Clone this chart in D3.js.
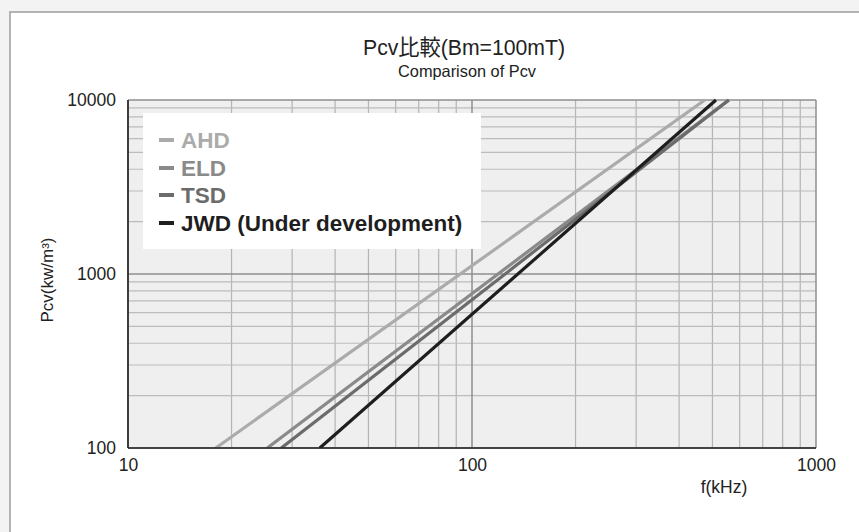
<!DOCTYPE html>
<html><head><meta charset="utf-8">
<script src="https://cdn.jsdelivr.net/npm/d3@7"></script>
<style>
html,body{margin:0;padding:0;background:#f3f3f3;}
svg{display:block;}
</style></head>
<body>
<svg id="chart" width="859" height="532"></svg>
<script>
// ---- data ----
const titleText = "Pcv比較(Bm=100mT)";
const subtitleText = "Comparison of Pcv";
const xLabel = "f(kHz)";
const yLabel = "Pcv(kw/m³)";
const seriesNames = ["AHD", "ELD", "TSD", "JWD (Under development)"];
const seriesColors = ["#ababab", "#8a8a8a", "#6b6b6b", "#1e1e1e"];
// each series: frequency (kHz) and Pcv (kW/m3) at its two ends (straight lines on log-log)
const ahdFreq = [18.0, 475];
const ahdPcv = [100, 10000];
const eldFreq = [25.4, 558];
const eldPcv = [100, 10000];
const tsdFreq = [27.9, 558];
const tsdPcv = [100, 10000];
const jwdFreq = [36.1, 512];
const jwdPcv = [100, 10000];
const xTicks = [10, 100, 1000];
const yTicks = [100, 1000, 10000];

const seriesData = [
  ahdFreq.map((f, i) => ({f, p: ahdPcv[i]})),
  eldFreq.map((f, i) => ({f, p: eldPcv[i]})),
  tsdFreq.map((f, i) => ({f, p: tsdPcv[i]})),
  jwdFreq.map((f, i) => ({f, p: jwdPcv[i]}))
];

const svg = d3.select("#chart");
const W = 859, H = 532;
const m = {left: 128, right: 816, top: 100, bottom: 448};

// frame
svg.append("rect").attr("x", 10).attr("y", 12).attr("width", W).attr("height", H)
  .attr("fill", "#fff").attr("stroke", "#b3b3b3").attr("stroke-width", 2);

const x = d3.scaleLog().domain([10, 1000]).range([m.left, m.right]);
const y = d3.scaleLog().domain([100, 10000]).range([m.bottom, m.top]);

// plot background
svg.append("rect").attr("x", m.left).attr("y", m.top)
  .attr("width", m.right - m.left).attr("height", m.bottom - m.top).attr("fill", "#efefef");

const g = svg.append("g");
// minor grid
const xMinor = x.ticks().filter(v => !xTicks.includes(v));
const yMinor = y.ticks().filter(v => !yTicks.includes(v));
g.selectAll(".xm").data(xMinor).join("line")
  .attr("x1", d => x(d)).attr("x2", d => x(d)).attr("y1", m.top).attr("y2", m.bottom)
  .attr("stroke", "#b4b4b4").attr("stroke-width", 1.2);
g.selectAll(".ym").data(yMinor).join("line")
  .attr("x1", m.left).attr("x2", m.right).attr("y1", d => y(d)).attr("y2", d => y(d))
  .attr("stroke", "#bcbcbc").attr("stroke-width", 1.2);
// major grid
g.selectAll(".xM").data(xTicks).join("line")
  .attr("x1", d => x(d)).attr("x2", d => x(d)).attr("y1", m.top).attr("y2", m.bottom)
  .attr("stroke", "#8f8f8f").attr("stroke-width", 1.5);
g.selectAll(".yM").data(yTicks).join("line")
  .attr("x1", m.left).attr("x2", m.right).attr("y1", d => y(d)).attr("y2", d => y(d))
  .attr("stroke", "#8f8f8f").attr("stroke-width", 1.5);

// legend box (under the curves)
const lg = svg.append("g");
lg.append("rect").attr("x", 143).attr("y", 113).attr("width", 338).attr("height", 136).attr("fill", "#fff");

// curves
svg.append("clipPath").attr("id", "clip").append("rect")
  .attr("x", m.left).attr("y", m.top - 2).attr("width", m.right - m.left).attr("height", m.bottom - m.top + 2);
const line = d3.line().x(d => x(d.f)).y(d => y(d.p));
svg.append("g").attr("clip-path", "url(#clip)")
  .selectAll("path").data(seriesData).join("path")
  .attr("d", line).attr("fill", "none")
  .attr("stroke", (d, i) => seriesColors[i]).attr("stroke-width", 3.2);

// axes
const xAxis = svg.append("g").attr("transform", `translate(0,${m.bottom})`)
  .call(d3.axisBottom(x).tickValues(xTicks).tickFormat(d3.format("d")).tickSize(0).tickPadding(11));
const yAxis = svg.append("g").attr("transform", `translate(${m.left},0)`)
  .call(d3.axisLeft(y).tickValues(yTicks).tickFormat(d3.format("d")).tickSize(0).tickPadding(12));
[xAxis, yAxis].forEach(a => {
  a.select(".domain").attr("stroke", "#222").attr("stroke-width", 1.6);
  a.selectAll("text").attr("font-family", "Liberation Sans, Arial, sans-serif")
    .attr("font-size", 17.5).attr("fill", "#222");
});
xAxis.selectAll("text").attr("dy", "0.71em");
yAxis.selectAll("text").attr("dy", "0.3em");
yAxis.select(".domain").attr("d", `M0,${m.bottom}V${m.top}`);
xAxis.select(".domain").attr("d", `M${m.left},0H${m.right}`);

// axis titles
svg.append("text").attr("x", 724).attr("y", 493).attr("text-anchor", "middle")
  .attr("font-family", "Liberation Sans, Arial, sans-serif").attr("font-size", 17.5).attr("fill", "#222")
  .text(xLabel);
svg.append("text").attr("transform", "translate(53,280) rotate(-90)").attr("text-anchor", "middle")
  .attr("font-family", "Liberation Sans, Arial, sans-serif").attr("font-size", 16.5).attr("fill", "#222")
  .attr("textLength", 85).attr("lengthAdjust", "spacingAndGlyphs")
  .text(yLabel);

// titles
svg.append("text").attr("x", 464).attr("y", 55).attr("text-anchor", "middle")
  .attr("font-family", "Liberation Sans, 'Noto Sans CJK JP', sans-serif").attr("font-size", 22).attr("fill", "#222")
  .attr("textLength", 202).attr("lengthAdjust", "spacingAndGlyphs")
  .text(titleText);
svg.append("text").attr("x", 467).attr("y", 77).attr("text-anchor", "middle")
  .attr("font-family", "Liberation Sans, Arial, sans-serif").attr("font-size", 16.5).attr("fill", "#222")
  .attr("textLength", 138).attr("lengthAdjust", "spacingAndGlyphs")
  .text(subtitleText);

// legend entries
const rowY = [140, 168, 195, 223];
seriesNames.forEach((name, i) => {
  lg.append("line").attr("x1", 159).attr("x2", 174).attr("y1", rowY[i]).attr("y2", rowY[i])
    .attr("stroke", seriesColors[i]).attr("stroke-width", 4);
  lg.append("text").attr("x", 181).attr("y", rowY[i] + 7.5)
    .attr("font-family", "Liberation Sans, Arial, sans-serif").attr("font-weight", "bold")
    .attr("font-size", 22.5).attr("fill", seriesColors[i])
    .text(name);
});
</script>
</body></html>
